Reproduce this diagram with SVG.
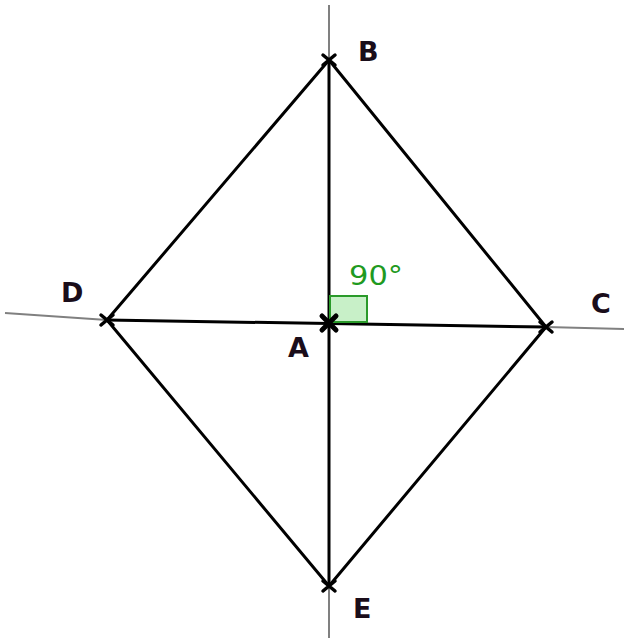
<svg xmlns="http://www.w3.org/2000/svg" width="624" height="643" viewBox="0 0 624 643">
<style>
.axis{stroke:#808080;stroke-width:2;fill:none}
.edge{stroke:#000;stroke-width:3;fill:none;stroke-linecap:round}
.mark{stroke:#000;stroke-width:3.5;stroke-linecap:round}
.lbl{font-family:"DejaVu Sans","Liberation Sans",sans-serif;font-size:27px;font-weight:bold;fill:#1a0d1a}
.ang{font-family:"DejaVu Sans","Liberation Sans",sans-serif;font-size:27px;fill:#1f9a1f}
</style>
<rect width="624" height="643" fill="#fff"/>
<g id="axes">
<line class="axis" x1="329" y1="5" x2="329" y2="638"/>
<line class="axis" x1="5" y1="313" x2="107" y2="320"/>
<line class="axis" x1="546" y1="327" x2="624" y2="329"/>
</g>
<g id="connectors">
<line class="edge" x1="329" y1="60" x2="107" y2="320"/>
<line class="edge" x1="329" y1="60" x2="546" y2="327"/>
<line class="edge" x1="107" y1="320" x2="329" y2="586"/>
<line class="edge" x1="546" y1="327" x2="329" y2="586"/>
<line class="edge" x1="329" y1="60" x2="329" y2="586"/>
<line class="edge" x1="107" y1="320" x2="546" y2="327"/>
</g>
<g id="right-angle">
<rect x="330" y="296" width="37" height="26" fill="#c8f0c8" stroke="#2a9a2a" stroke-width="2"/>
<text class="ang" x="349" y="285" textLength="54" lengthAdjust="spacingAndGlyphs">90°</text>
</g>
<g id="B"><path class="mark" d="M323 55L335 65M335 55L323 65"/><text class="lbl" x="358" y="61">B</text></g>
<g id="D"><path class="mark" d="M101 315L113 325M113 315L101 325"/><text class="lbl" x="61" y="302">D</text></g>
<g id="A"><path class="mark" d="M322 316L336 330M336 316L322 330" style="stroke-width:5"/><text class="lbl" x="288" y="357">A</text></g>
<g id="C"><path class="mark" d="M540 322L552 332M552 322L540 332"/><text class="lbl" x="591" y="313">C</text></g>
<g id="E"><path class="mark" d="M323 581L335 591M335 581L323 591"/><text class="lbl" x="353" y="618">E</text></g>
</svg>
